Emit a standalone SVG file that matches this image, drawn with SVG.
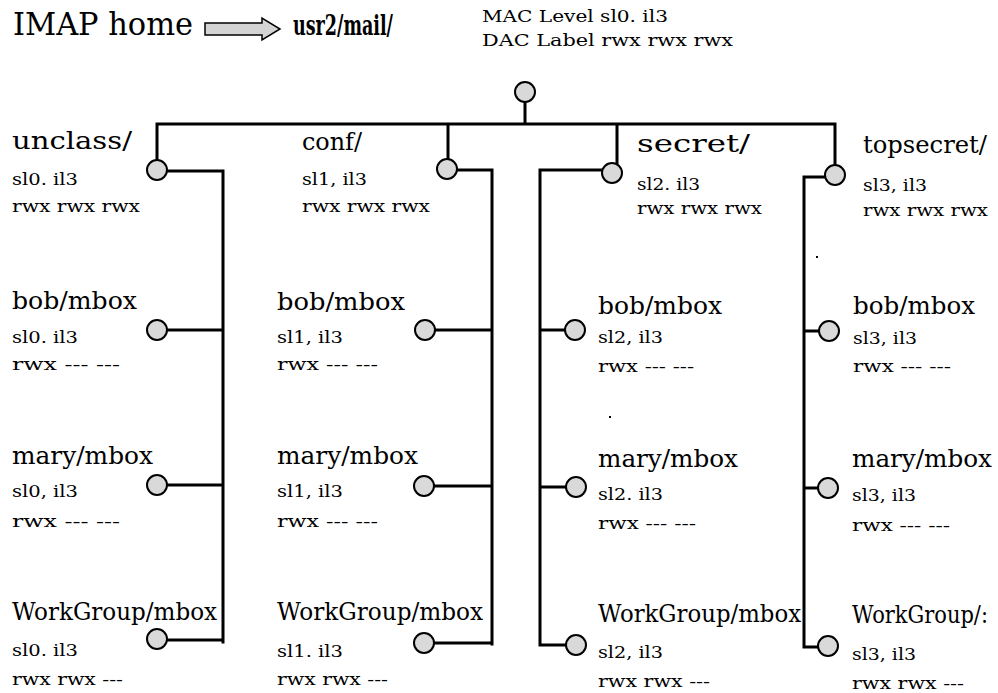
<svg xmlns="http://www.w3.org/2000/svg" width="998" height="693" viewBox="0 0 998 693">
<style>
text{font-family:'DejaVu Serif','Liberation Serif','Times New Roman',Times,serif;fill:#000}
.title{font-size:31px}
.bold{font-size:28px;font-weight:bold}
.lbl{font-size:16px}
.name{font-size:24px}
.sub{font-size:17px}
.ln{fill:none;stroke:#000;stroke-width:3;stroke-linecap:square}
.nd{fill:#d9d9d9;stroke:#000;stroke-width:2}
</style>
<rect width="998" height="693" fill="#fff"/>
<g id="header">
<text class="title" x="13" y="35" textLength="180" lengthAdjust="spacingAndGlyphs">IMAP home</text>
<path d="M205,23 H262 V18 L280,29 L262,40 V35 H205 Z" fill="#d4d4d4" stroke="#000" stroke-width="1.5"/>
<text class="bold" x="293" y="35" textLength="100" lengthAdjust="spacingAndGlyphs">usr2/mail/</text>
<text class="lbl" x="482" y="22" textLength="186" lengthAdjust="spacingAndGlyphs">MAC Level sl0. il3</text>
<text class="lbl" x="482" y="46" textLength="251" lengthAdjust="spacingAndGlyphs">DAC  Label rwx rwx rwx</text>
</g>
<g id="connectors">
<path class="ln" d="M525,102 V124 M157,124 H835 M157,124 V160 M448,124 V159 M617,124 V163 M835,124 V165"/>
<path class="ln" d="M168,171 H223 V642 M167,330 H223 M168,485 H223 M168,640 H223"/>
<path class="ln" d="M458,170 H492 V644 M436,330 H492 M435,486 H492 M435,643 H492"/>
<path class="ln" d="M602,170 H540 V645 M565,330 H540 M565,487 H540 M565,645 H540"/>
<path class="ln" d="M825,177 H804 V647 M818,331 H804 M817,488 H804 M817,647 H804"/>
</g>
<g id="root"><circle class="nd" cx="525" cy="92" r="10"/></g>
<g id="unclass">
<circle class="nd" cx="157" cy="170" r="10"/>
<text class="name" x="12" y="149" textLength="120" lengthAdjust="spacingAndGlyphs">unclass/</text>
<text class="sub" x="12" y="185" textLength="66" lengthAdjust="spacingAndGlyphs">sl0. il3</text>
<text class="sub" x="12" y="212" textLength="128" lengthAdjust="spacingAndGlyphs">rwx rwx rwx</text>
</g>
<g id="unclass-bob">
<circle class="nd" cx="157" cy="330" r="10"/>
<text class="name" x="12" y="309" textLength="125" lengthAdjust="spacingAndGlyphs">bob/mbox</text>
<text class="sub" x="12" y="343" textLength="66" lengthAdjust="spacingAndGlyphs">sl0. il3</text>
<text class="sub" x="12" y="370" textLength="108" lengthAdjust="spacingAndGlyphs">rwx --- ---</text>
</g>
<g id="unclass-mary">
<circle class="nd" cx="157" cy="485" r="10"/>
<text class="name" x="12" y="464" textLength="141" lengthAdjust="spacingAndGlyphs">mary/mbox</text>
<text class="sub" x="12" y="497" textLength="66" lengthAdjust="spacingAndGlyphs">sl0, il3</text>
<text class="sub" x="12" y="527" textLength="108" lengthAdjust="spacingAndGlyphs">rwx --- ---</text>
</g>
<g id="unclass-workgroup">
<circle class="nd" cx="157" cy="639" r="10"/>
<text class="name" x="12" y="620" textLength="205" lengthAdjust="spacingAndGlyphs">WorkGroup/mbox</text>
<text class="sub" x="12" y="656" textLength="66" lengthAdjust="spacingAndGlyphs">sl0. il3</text>
<text class="sub" x="12" y="685" textLength="111" lengthAdjust="spacingAndGlyphs">rwx rwx ---</text>
</g>
<g id="conf">
<circle class="nd" cx="447" cy="169" r="10"/>
<text class="name" x="302" y="150" textLength="60" lengthAdjust="spacingAndGlyphs">conf/</text>
<text class="sub" x="302" y="185" textLength="65" lengthAdjust="spacingAndGlyphs">sl1, il3</text>
<text class="sub" x="302" y="212" textLength="128" lengthAdjust="spacingAndGlyphs">rwx rwx rwx</text>
</g>
<g id="conf-bob">
<circle class="nd" cx="425" cy="330" r="10"/>
<text class="name" x="277" y="310" textLength="128" lengthAdjust="spacingAndGlyphs">bob/mbox</text>
<text class="sub" x="277" y="343" textLength="66" lengthAdjust="spacingAndGlyphs">sl1, il3</text>
<text class="sub" x="277" y="370" textLength="101" lengthAdjust="spacingAndGlyphs">rwx --- ---</text>
</g>
<g id="conf-mary">
<circle class="nd" cx="424" cy="486" r="10"/>
<text class="name" x="277" y="464" textLength="141" lengthAdjust="spacingAndGlyphs">mary/mbox</text>
<text class="sub" x="277" y="497" textLength="66" lengthAdjust="spacingAndGlyphs">sl1, il3</text>
<text class="sub" x="277" y="527" textLength="101" lengthAdjust="spacingAndGlyphs">rwx --- ---</text>
</g>
<g id="conf-workgroup">
<circle class="nd" cx="424" cy="643" r="10"/>
<text class="name" x="277" y="620" textLength="206" lengthAdjust="spacingAndGlyphs">WorkGroup/mbox</text>
<text class="sub" x="277" y="657" textLength="66" lengthAdjust="spacingAndGlyphs">sl1. il3</text>
<text class="sub" x="277" y="685" textLength="111" lengthAdjust="spacingAndGlyphs">rwx rwx ---</text>
</g>
<g id="secret">
<circle class="nd" cx="612" cy="173" r="10"/>
<text class="name" x="637" y="152" textLength="113" lengthAdjust="spacingAndGlyphs">secret/</text>
<text class="sub" x="637" y="190" textLength="63" lengthAdjust="spacingAndGlyphs">sl2. il3</text>
<text class="sub" x="637" y="214" textLength="125" lengthAdjust="spacingAndGlyphs">rwx rwx rwx</text>
</g>
<g id="secret-bob">
<circle class="nd" cx="575" cy="330" r="10"/>
<text class="name" x="598" y="314" textLength="124" lengthAdjust="spacingAndGlyphs">bob/mbox</text>
<text class="sub" x="598" y="343" textLength="65" lengthAdjust="spacingAndGlyphs">sl2, il3</text>
<text class="sub" x="598" y="372" textLength="96" lengthAdjust="spacingAndGlyphs">rwx --- ---</text>
</g>
<g id="secret-mary">
<circle class="nd" cx="576" cy="487" r="10"/>
<text class="name" x="598" y="467" textLength="140" lengthAdjust="spacingAndGlyphs">mary/mbox</text>
<text class="sub" x="598" y="500" textLength="65" lengthAdjust="spacingAndGlyphs">sl2. il3</text>
<text class="sub" x="598" y="529" textLength="98" lengthAdjust="spacingAndGlyphs">rwx --- ---</text>
</g>
<g id="secret-workgroup">
<circle class="nd" cx="576" cy="645" r="10"/>
<text class="name" x="598" y="622" textLength="203" lengthAdjust="spacingAndGlyphs">WorkGroup/mbox</text>
<text class="sub" x="598" y="658" textLength="65" lengthAdjust="spacingAndGlyphs">sl2, il3</text>
<text class="sub" x="598" y="687" textLength="112" lengthAdjust="spacingAndGlyphs">rwx rwx ---</text>
</g>
<g id="topsecret">
<circle class="nd" cx="835" cy="175" r="10"/>
<text class="name" x="863" y="153" textLength="124" lengthAdjust="spacingAndGlyphs">topsecret/</text>
<text class="sub" x="863" y="191" textLength="64" lengthAdjust="spacingAndGlyphs">sl3, il3</text>
<text class="sub" x="863" y="216" textLength="125" lengthAdjust="spacingAndGlyphs">rwx rwx rwx</text>
</g>
<g id="topsecret-bob">
<circle class="nd" cx="829" cy="331" r="10"/>
<text class="name" x="853" y="314" textLength="122" lengthAdjust="spacingAndGlyphs">bob/mbox</text>
<text class="sub" x="853" y="344" textLength="64" lengthAdjust="spacingAndGlyphs">sl3, il3</text>
<text class="sub" x="853" y="372" textLength="98" lengthAdjust="spacingAndGlyphs">rwx --- ---</text>
</g>
<g id="topsecret-mary">
<circle class="nd" cx="828" cy="488" r="10"/>
<text class="name" x="852" y="467" textLength="140" lengthAdjust="spacingAndGlyphs">mary/mbox</text>
<text class="sub" x="852" y="501" textLength="64" lengthAdjust="spacingAndGlyphs">sl3, il3</text>
<text class="sub" x="852" y="531" textLength="98" lengthAdjust="spacingAndGlyphs">rwx --- ---</text>
</g>
<g id="topsecret-workgroup">
<circle class="nd" cx="828" cy="646" r="10"/>
<text class="name" x="852" y="623" font-size="20" textLength="136" lengthAdjust="spacingAndGlyphs">WorkGroup/:</text>
<text class="sub" x="852" y="660" textLength="64" lengthAdjust="spacingAndGlyphs">sl3, il3</text>
<text class="sub" x="852" y="689" textLength="112" lengthAdjust="spacingAndGlyphs">rwx rwx ---</text>
</g>
<g id="specks" fill="#000">
<rect x="816" y="256" width="2" height="2"/>
<rect x="609" y="416" width="2" height="2"/>
</g>
</svg>
